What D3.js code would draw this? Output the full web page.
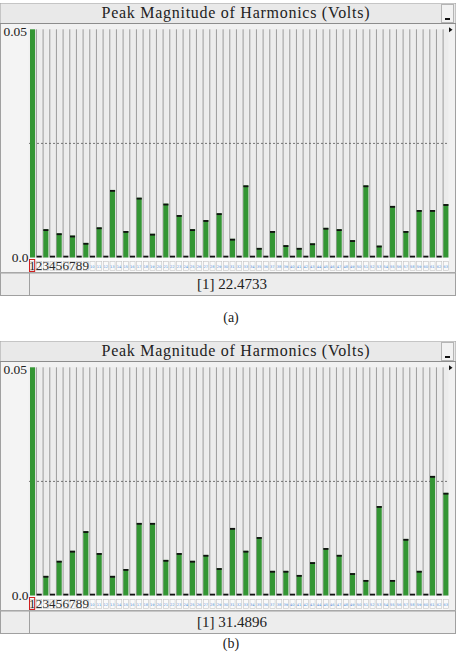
<!DOCTYPE html>
<html>
<head>
<meta charset="utf-8">
<script src="https://cdn.jsdelivr.net/npm/d3@7"></script>
<style>
  body { margin: 0; background: #fff; }
  svg { display: block; }
  .serif { font-family: 'Liberation Serif', 'Times New Roman', 'DejaVu Serif', serif; }
</style>
</head>
<body>
<div id="chart"></div>
<script>
// harmonic numbers shown on the x axis
const harmonics = d3.range(1, 64);

// peak magnitudes (V) per harmonic, panel (a); h1 is the fundamental and is clipped
const valuesA = [
  22.4733, 0, 0.0062, 0, 0.0053, 0, 0.0048, 0, 0.0032, 0,
  0.0066, 0, 0.0148, 0, 0.0058, 0, 0.0131, 0, 0.0052, 0,
  0.0118, 0, 0.0093, 0, 0.0062, 0, 0.0082, 0, 0.0097, 0,
  0.0041, 0, 0.0158, 0, 0.0021, 0, 0.0058, 0, 0.0027, 0,
  0.0021, 0, 0.0031, 0, 0.0065, 0, 0.0062, 0, 0.0038, 0,
  0.0158, 0, 0.0026, 0, 0.0113, 0, 0.0058, 0, 0.0104, 0,
  0.0104, 0, 0.0117
];

// panel (b)
const valuesB = [
  31.4896, 0, 0.0043, 0, 0.0076, 0, 0.0098, 0, 0.0141, 0,
  0.0093, 0, 0.0043, 0, 0.0058, 0, 0.0159, 0, 0.0159, 0,
  0.0078, 0, 0.0093, 0, 0.0076, 0, 0.0089, 0, 0.0060, 0,
  0.0148, 0, 0.0098, 0, 0.0128, 0, 0.0054, 0, 0.0054, 0,
  0.0045, 0, 0.0073, 0, 0.0104, 0, 0.0089, 0, 0.0049, 0,
  0.0034, 0, 0.0196, 0, 0.0034, 0, 0.0124, 0, 0.0054, 0,
  0.0262, 0, 0.0225
];

const yTicks = [0, 0.05];
const yTickLabels = ['0.0', '0.05'];
const title = 'Peak Magnitude of Harmonics (Volts)';
const captions = ['(a)', '(b)'];

const width = 462, height = 652;
const green = '#349634';

const svg = d3.select('#chart').append('svg')
  .attr('width', width)
  .attr('height', height);

function drawPanel(top, values, captionY, caption) {
  const g = svg.append('g');
  const panelW = 455;

  // Frame
  g.append('rect')
    .attr('x', 0.5).attr('y', top + 0.5)
    .attr('width', panelW).attr('height', 292)
    .attr('fill', '#f1f1f1').attr('stroke', '#a0a0a0');

  // Title bar
  g.append('rect')
    .attr('x', 0.5).attr('y', top + 0.5)
    .attr('width', panelW).attr('height', 20)
    .attr('fill', '#e9e9e9');
  g.append('line')
    .attr('x1', 0).attr('x2', panelW + 1)
    .attr('y1', top + 20.5).attr('y2', top + 20.5)
    .attr('stroke', '#8c8c8c');
  g.append('text')
    .attr('class', 'serif')
    .attr('x', 235.5).attr('y', top + 15)
    .attr('text-anchor', 'middle')
    .attr('font-size', 16)
    .attr('fill', '#222')
    .attr('textLength', 268).attr('lengthAdjust', 'spacing')
    .text(title);

  // minimise button
  g.append('rect')
    .attr('x', 441.5).attr('y', top + 1.5)
    .attr('width', 12).attr('height', 18)
    .attr('fill', '#f2f2f2').attr('stroke', '#b5b5b5');
  g.append('rect')
    .attr('x', 445).attr('y', top + 15)
    .attr('width', 5).attr('height', 2)
    .attr('fill', '#111');

  // Scales
  const x = d3.scaleBand()
    .domain(harmonics)
    .range([29, 29 + harmonics.length * 6.667]);

  const y = d3.scaleLinear()
    .domain([0, 0.05])
    .range([top + 254.5, top + 26.3])
    .clamp(true);

  const bw = x.bandwidth();

  // slot columns
  const slots = g.append('g');
  slots.selectAll('rect.col')
    .data(harmonics)
    .join('rect')
    .attr('class', 'col')
    .attr('x', d => x(d) + 1)
    .attr('y', y(0.05))
    .attr('width', bw - 1.6)
    .attr('height', y(0) - y(0.05))
    .attr('fill', '#ececec');
  slots.selectAll('rect.sep')
    .data(harmonics.slice(1))
    .join('rect')
    .attr('class', 'sep')
    .attr('x', d => x(d) + 0.2)
    .attr('y', y(0.05))
    .attr('width', 1.1)
    .attr('height', y(0) - y(0.05))
    .attr('fill', '#a0a0a0');
  // area behind y labels
  g.append('rect')
    .attr('x', 1).attr('y', top + 21)
    .attr('width', 27.5).attr('height', 248)
    .attr('fill', '#f4f4f4');

  // dashed mid line
  g.append('line')
    .attr('x1', x(1)).attr('x2', x(63) + bw)
    .attr('y1', y(0.025)).attr('y2', y(0.025))
    .attr('stroke', '#555').attr('stroke-width', 0.8)
    .attr('stroke-dasharray', '2,2');

  const data = harmonics.map((h, i) => ({ h, v: values[i] }));

  // bars
  g.append('g').selectAll('rect')
    .data(data.filter(d => d.v > 0))
    .join('rect')
    .attr('x', d => x(d.h) + 1)
    .attr('y', d => y(d.v))
    .attr('width', bw - 1.6)
    .attr('height', d => y(0) - y(d.v))
    .attr('fill', green);

  // black caps at bar tops (and zero markers)
  g.append('g').selectAll('rect')
    .data(data.filter(d => d.h > 1))
    .join('rect')
    .attr('x', d => x(d.h) + 1)
    .attr('y', d => d.v > 0 ? y(d.v) : y(0) - 1.8)
    .attr('width', bw - 1.6)
    .attr('height', 1.8)
    .attr('fill', '#111');

  // label row below zero
  const lab = g.append('g');
  lab.append('rect')
    .attr('x', x(1)).attr('y', y(0) + 0.5)
    .attr('width', x(63) + bw - x(1)).attr('height', 14)
    .attr('fill', '#fafafa');
  lab.selectAll('rect.cell')
    .data(harmonics)
    .join('rect')
    .attr('class', 'cell')
    .attr('x', d => x(d) + 1)
    .attr('y', y(0) + 4)
    .attr('width', bw - 1.6)
    .attr('height', 9)
    .attr('fill', 'none')
    .attr('stroke', '#c4c4c4')
    .attr('stroke-width', 0.6);
  lab.selectAll('text')
    .data(harmonics)
    .join('text')
    .attr('class', d => d < 10 ? 'serif' : null)
    .attr('x', d => x(d) + bw / 2)
    .attr('y', d => d < 10 ? y(0) + 12.5 : y(0) + 10)
    .attr('text-anchor', 'middle')
    .attr('font-family', d => d < 10 ? null : 'DejaVu Sans')
    .attr('font-size', d => d < 10 ? 13 : 3.5)
    .attr('fill', d => d < 10 ? '#2a2a2a' : '#4a8ad6')
    .text(d => d);
  lab.append('rect')
    .attr('x', x(1) + 0.5).attr('y', y(0) + 2)
    .attr('width', bw - 1.5).attr('height', 12)
    .attr('fill', 'none').attr('stroke', '#d02020').attr('stroke-width', 1);
  g.append('line')
    .attr('x1', 0).attr('x2', panelW + 1)
    .attr('y1', top + 269.5).attr('y2', top + 269.5)
    .attr('stroke', '#b0b0b0');

  // y tick labels
  g.append('g').selectAll('text')
    .data(yTicks)
    .join('text')
    .attr('class', 'serif')
    .attr('x', (d, i) => i === 0 ? 28.5 : 27)
    .attr('y', d => d === 0 ? y(d) + 4 : y(d) + 7)
    .attr('text-anchor', 'end')
    .attr('font-size', 13.5)
    .attr('fill', '#222')
    .text((d, i) => yTickLabels[i]);

  // small arrow at top right
  g.append('path')
    .attr('d', `M449,${y(0.05) - 2} L452.5,${y(0.05) + 0.5} L449,${y(0.05) + 3} Z`)
    .attr('fill', '#111');

  // bottom readout row
  g.append('rect')
    .attr('x', 0.5).attr('y', top + 270)
    .attr('width', panelW).attr('height', 22.5)
    .attr('fill', '#ededed').attr('stroke', '#a0a0a0');
  g.append('line')
    .attr('x1', 29.5).attr('x2', 29.5)
    .attr('y1', top + 270).attr('y2', top + 292.5)
    .attr('stroke', '#a0a0a0');
  g.append('text')
    .attr('class', 'serif')
    .attr('x', 232).attr('y', top + 286)
    .attr('text-anchor', 'middle')
    .attr('font-size', 15)
    .attr('fill', '#222')
    .text(`[1] ${values[0]}`);

  // caption
  svg.append('text')
    .attr('class', 'serif')
    .attr('x', 231).attr('y', captionY)
    .attr('text-anchor', 'middle')
    .attr('font-size', 14)
    .attr('fill', '#222')
    .text(caption);
}

drawPanel(3, valuesA, 322, captions[0]);
drawPanel(341, valuesB, 648, captions[1]);
</script>
</body>
</html>
